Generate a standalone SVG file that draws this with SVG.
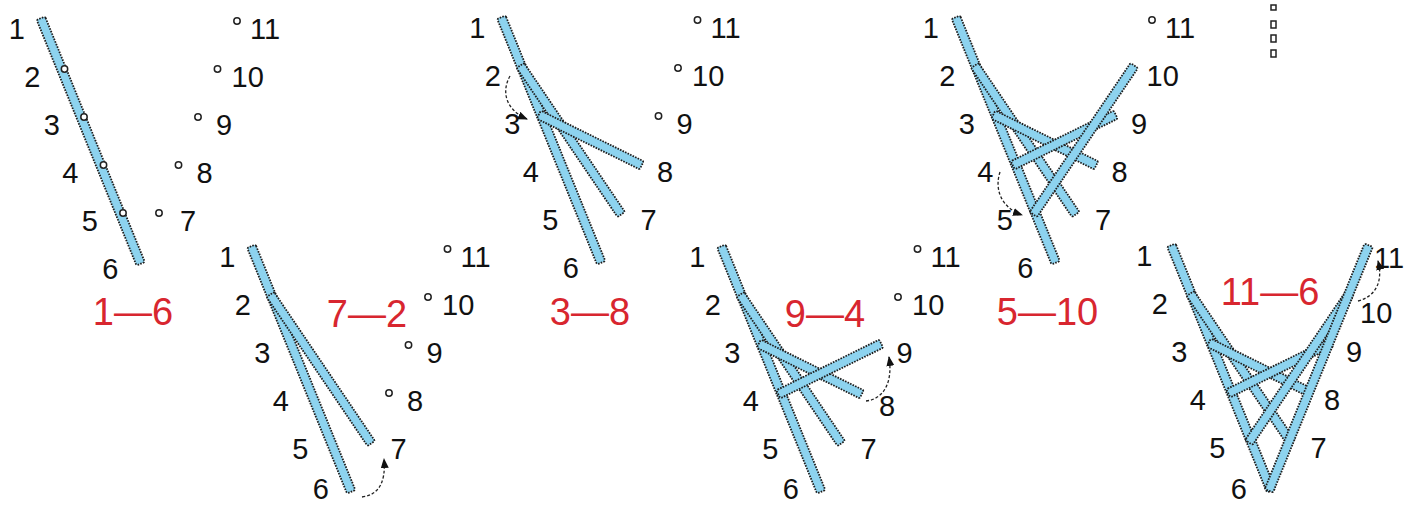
<svg xmlns="http://www.w3.org/2000/svg" xmlns:xlink="http://www.w3.org/1999/xlink" width="1407" height="506" viewBox="0 0 1407 506">
<style>
.n{font-family:"Liberation Sans",Arial,sans-serif;font-size:29px;fill:#111}
.e{text-anchor:end}
.r{font-family:"Liberation Sans",Arial,sans-serif;font-size:38px;fill:#d8262f;text-anchor:middle}
.thr{fill:#8dd3ef;stroke:#1e1e1e;stroke-width:1.8;stroke-dasharray:1.6 1.2}
.h{fill:#fff;stroke:#222;stroke-width:1.5}
.arr{fill:none;stroke:#222;stroke-width:1.3;stroke-dasharray:3 2;marker-end:url(#ah)}
</style>
<defs>
<marker id="ah" viewBox="0 0 10 8" refX="9" refY="4" markerWidth="10" markerHeight="8" orient="auto" markerUnits="userSpaceOnUse"><path d="M0,0 L10,4 L0,8 z" fill="#111"/></marker>
<rect id="t16" class="thr" x="-3" y="-4.5" width="265" height="9" rx="1.5" transform="translate(-97.5,0) rotate(67.88)"/>
<rect id="t27" class="thr" x="-3" y="-4.5" width="179.9" height="9" rx="1.5" transform="translate(-78,48) rotate(55.88)"/>
<rect id="t38" class="thr" x="-3" y="-4.5" width="114.7" height="9" rx="1.5" transform="translate(-58.5,96) rotate(26.21)"/>
<rect id="t49" class="thr" x="-3" y="-4.5" width="114.7" height="9" rx="1.5" transform="translate(-39,144) rotate(-26.21)"/>
<rect id="t510" class="thr" x="-3" y="-4.5" width="179.9" height="9" rx="1.5" transform="translate(-19.5,192) rotate(-55.88)"/>
<rect id="t611" class="thr" x="-3" y="-4.5" width="265" height="9" rx="1.5" transform="translate(0,240) rotate(-67.88)"/>
</defs>
<rect width="1407" height="506" fill="#fff"/>
<g id="threads">
<use xlink:href="#t16" href="#t16" transform="translate(139.5,21)"/>
<use xlink:href="#t16" href="#t16" transform="translate(350,249)"/>
<use xlink:href="#t27" href="#t27" transform="translate(350,249)"/>
<use xlink:href="#t16" href="#t16" transform="translate(600,20)"/>
<use xlink:href="#t27" href="#t27" transform="translate(600,20)"/>
<use xlink:href="#t38" href="#t38" transform="translate(600,20)"/>
<use xlink:href="#t16" href="#t16" transform="translate(820,249)"/>
<use xlink:href="#t27" href="#t27" transform="translate(820,249)"/>
<use xlink:href="#t38" href="#t38" transform="translate(820,249)"/>
<use xlink:href="#t49" href="#t49" transform="translate(820,249)"/>
<use xlink:href="#t16" href="#t16" transform="translate(1054.5,20)"/>
<use xlink:href="#t27" href="#t27" transform="translate(1054.5,20)"/>
<use xlink:href="#t38" href="#t38" transform="translate(1054.5,20)"/>
<use xlink:href="#t49" href="#t49" transform="translate(1054.5,20)"/>
<use xlink:href="#t510" href="#t510" transform="translate(1054.5,20)"/>
<use xlink:href="#t16" href="#t16" transform="translate(1270,248)"/>
<use xlink:href="#t27" href="#t27" transform="translate(1270,248)"/>
<use xlink:href="#t38" href="#t38" transform="translate(1270,248)"/>
<use xlink:href="#t49" href="#t49" transform="translate(1270,248)"/>
<use xlink:href="#t510" href="#t510" transform="translate(1270,248)"/>
<use xlink:href="#t611" href="#t611" transform="translate(1270,248)"/>
</g>
<g id="panel1">
<circle class="h" cx="64.5" cy="69" r="3.2"/><circle class="h" cx="84" cy="117" r="3.2"/><circle class="h" cx="103.5" cy="165" r="3.2"/><circle class="h" cx="123" cy="213" r="3.2"/>
<circle class="h" cx="159" cy="213" r="3.2"/><circle class="h" cx="178.5" cy="165" r="3.2"/><circle class="h" cx="198" cy="117" r="3.2"/><circle class="h" cx="217.5" cy="69" r="3.2"/><circle class="h" cx="237" cy="21" r="3.2"/>
<text class="n e" x="25" y="39">1</text><text class="n e" x="40.5" y="87">2</text><text class="n e" x="60" y="135">3</text><text class="n e" x="78.5" y="183">4</text><text class="n e" x="98" y="231">5</text><text class="n e" x="118.5" y="279">6</text>
<text class="n" x="180" y="231">7</text><text class="n" x="196.5" y="183">8</text><text class="n" x="216" y="135">9</text><text class="n" x="231.5" y="87">10</text><text class="n" x="250" y="39">11</text>
<text class="r" x="133" y="325">1—6</text>
</g>
<g id="panel2">
<circle class="h" cx="389" cy="393" r="3.2"/><circle class="h" cx="408.5" cy="345" r="3.2"/><circle class="h" cx="428" cy="297" r="3.2"/><circle class="h" cx="447.5" cy="249" r="3.2"/>
<text class="n e" x="235.5" y="267">1</text><text class="n e" x="251" y="315">2</text><text class="n e" x="270.5" y="363">3</text><text class="n e" x="289" y="411">4</text><text class="n e" x="308.5" y="459">5</text><text class="n e" x="329" y="499">6</text>
<text class="n" x="390.5" y="459">7</text><text class="n" x="407" y="411">8</text><text class="n" x="426.5" y="363">9</text><text class="n" x="442" y="315">10</text><text class="n" x="460.5" y="267">11</text>
<text class="r" x="367" y="327">7—2</text>
</g>
<g id="panel3">
<circle class="h" cx="658.5" cy="116" r="3.2"/><circle class="h" cx="678" cy="68" r="3.2"/><circle class="h" cx="697.5" cy="20" r="3.2"/>
<text class="n e" x="485.5" y="38">1</text><text class="n e" x="501" y="86">2</text><text class="n e" x="520.5" y="134">3</text><text class="n e" x="539" y="182">4</text><text class="n e" x="558.5" y="230">5</text><text class="n e" x="579" y="278">6</text>
<text class="n" x="640.5" y="230">7</text><text class="n" x="657" y="182">8</text><text class="n" x="676.5" y="134">9</text><text class="n" x="692" y="86">10</text><text class="n" x="710.5" y="38">11</text>
<text class="r" x="590" y="325">3—8</text>
</g>
<g id="panel4">
<circle class="h" cx="898" cy="297" r="3.2"/><circle class="h" cx="917.5" cy="249" r="3.2"/>
<text class="n e" x="705.5" y="267">1</text><text class="n e" x="721" y="315">2</text><text class="n e" x="740.5" y="363">3</text><text class="n e" x="759" y="411">4</text><text class="n e" x="778.5" y="459">5</text><text class="n e" x="799" y="499">6</text>
<text class="n" x="860.5" y="459">7</text><text class="n" x="879" y="416">8</text><text class="n" x="896.5" y="363">9</text><text class="n" x="912" y="315">10</text><text class="n" x="930.5" y="267">11</text>
<text class="r" x="825" y="327">9—4</text>
</g>
<g id="panel5">
<circle class="h" cx="1152" cy="20" r="3.2"/>
<text class="n e" x="939" y="38">1</text><text class="n e" x="955.5" y="86">2</text><text class="n e" x="975" y="134">3</text><text class="n e" x="993.5" y="182">4</text><text class="n e" x="1013" y="230">5</text><text class="n e" x="1033.5" y="278">6</text>
<text class="n" x="1095" y="230">7</text><text class="n" x="1111.5" y="182">8</text><text class="n" x="1131" y="134">9</text><text class="n" x="1146.5" y="86">10</text><text class="n" x="1165" y="38">11</text>
<text class="r" x="1047.5" y="325">5—10</text>
</g>
<g id="panel6">
<text class="n e" x="1152.5" y="266">1</text><text class="n e" x="1168" y="314">2</text><text class="n e" x="1187.5" y="362">3</text><text class="n e" x="1206" y="410">4</text><text class="n e" x="1225.5" y="458">5</text><text class="n e" x="1247" y="499">6</text>
<text class="n" x="1310.5" y="458">7</text><text class="n" x="1324" y="410">8</text><text class="n" x="1346" y="362">9</text><text class="n" x="1360" y="323">10</text><text class="n" x="1374" y="268">11</text>
<text class="r" x="1270" y="305">11—6</text>
</g>
<g id="more">
<rect class="h" x="1271" y="5" width="5" height="5"/><rect class="h" x="1271" y="21" width="5" height="7"/><rect class="h" x="1271" y="35" width="5" height="7"/><rect class="h" x="1271" y="50" width="5" height="7"/>
</g>
<g id="arrows">
<path class="arr" d="M362,497 Q387,494 384,459"/>
<path class="arr" d="M510,76 C501,92 506,110 527,119"/>
<path class="arr" d="M866,401 C884,399 893,382 889,357"/>
<path class="arr" d="M1000,172 C994,190 1002,208 1022,215"/>
<path class="arr" d="M1358,301 C1377,296 1383,280 1378,261"/>
</g>
</svg>
